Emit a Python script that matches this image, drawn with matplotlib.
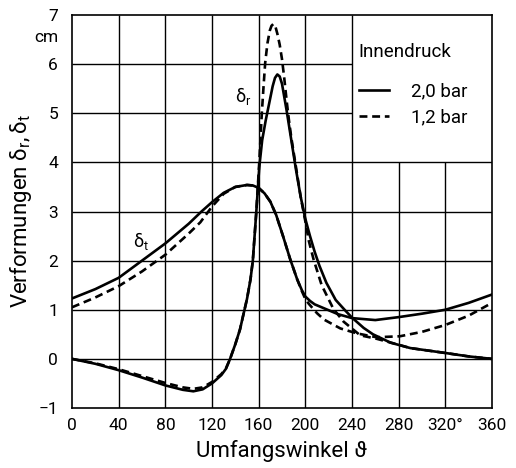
import matplotlib
matplotlib.use('Agg')  # no display
import matplotlib.pyplot as plt
import matplotlib.transforms as mtransforms

# delta_t (tangential), 2,0 bar and 1,2 bar
theta_t_20 = [0, 20, 40, 60, 80, 100, 111, 120, 130, 140, 150, 155, 160, 165, 170, 175, 181, 187,
              193, 197, 200, 204, 208, 216, 228, 240, 260, 280, 300, 320, 340, 360]
dt_20 = [1.23, 1.42, 1.65, 2.0, 2.35, 2.75, 3.0, 3.19, 3.38, 3.5, 3.54, 3.53, 3.48, 3.37, 3.2, 2.93,
         2.49, 2.03, 1.62, 1.4, 1.27, 1.18, 1.11, 1.03, 0.91, 0.83, 0.79, 0.85, 0.92, 1.0, 1.14, 1.31]

theta_t_12 = [0, 20, 40, 60, 80, 100, 110, 120, 130, 140, 150, 155, 160, 165, 170, 175, 181, 187,
              193, 197, 200, 203, 210, 216, 230, 244, 261, 281, 300, 320, 340, 360]
dt_12 = [1.05, 1.25, 1.48, 1.78, 2.12, 2.55, 2.78, 3.1, 3.36, 3.5, 3.54, 3.53, 3.48, 3.37, 3.2, 2.93,
         2.49, 2.03, 1.62, 1.38, 1.22, 1.12, 0.93, 0.8, 0.62, 0.52, 0.44, 0.46, 0.55, 0.69, 0.88, 1.14]

# delta_r (radial), 2,0 bar and 1,2 bar
theta_r_20 = [0, 20, 40, 60, 80, 95, 104, 112, 120, 128, 132, 135.5, 140, 144, 146.5, 150, 153, 155,
              158, 160.5, 163, 166, 169, 172, 174, 176, 178, 180, 184, 188, 192, 196, 200, 204,
              208, 212, 218, 226, 234, 240, 250, 258, 273, 290, 320, 340, 360]
dr_20 = [0, -0.1, -0.23, -0.38, -0.54, -0.63, -0.66, -0.62, -0.5, -0.33, -0.2, 0, 0.3, 0.6, 0.86,
         1.22, 1.62, 2.0, 3.0, 3.9, 4.45, 4.85, 5.2, 5.55, 5.72, 5.79, 5.75, 5.6, 5.05, 4.45, 3.85,
         3.3, 2.85, 2.5, 2.18, 1.9, 1.55, 1.2, 0.99, 0.84, 0.63, 0.5, 0.33, 0.22, 0.12, 0.05, 0.0]

theta_r_12 = [0, 20, 40, 60, 80, 95, 104, 112, 120, 128, 132, 135.5, 140, 144, 146.5, 150, 153, 155,
              158, 160.5, 162.7, 164.2, 165.6, 167.5, 169.5, 171, 172.7, 174.3, 176, 178, 180, 182,
              184, 186, 188, 192, 196, 200, 203, 207, 214, 224, 232.7, 247, 261, 275, 290, 320, 340,
              360]
dr_12 = [0, -0.09, -0.21, -0.35, -0.49, -0.58, -0.61, -0.58, -0.47, -0.31, -0.19, 0, 0.3, 0.6,
         0.86, 1.22, 1.62, 2.0, 3.0, 4.0, 5.0, 5.55, 6.03, 6.42, 6.68, 6.78, 6.82, 6.77, 6.62, 6.4,
         6.1, 5.7, 5.25, 4.85, 4.5, 3.9, 3.3, 2.8, 2.4, 2.03, 1.5, 1.02, 0.76, 0.48, 0.41, 0.32,
         0.22, 0.12, 0.05, 0.0]

x_ticks = [0, 40, 80, 120, 160, 200, 240, 280, 320, 360]
x_tick_labels = ['0', '40', '80', '120', '160', '200', '240', '280', '320°', '360']
y_ticks = [-1, 0, 1, 2, 3, 4, 5, 6, 7]
pressure_labels = ['2,0 bar', '1,2 bar']

plt.rcParams['font.family'] = ['Roboto', 'DejaVu Sans']
plt.rcParams['mathtext.fontset'] = 'custom'
plt.rcParams['mathtext.rm'] = 'Roboto'
plt.rcParams['mathtext.it'] = 'Roboto:italic'
plt.rcParams['mathtext.bf'] = 'Roboto:bold'

fig = plt.figure(figsize=(5.16, 4.68), dpi=100)
ax = fig.add_axes([72 / 516, 60 / 468, 420 / 516, 393 / 468])
ax.set_xlim(0, 360)
ax.set_ylim(-1, 7)

# grid, left open where the legend sits (240..360, 4..7)
for x in x_ticks[1:-1]:
    ax.vlines(x, -1, 4 if x > 240 else 7, color='black', lw=1.0, zorder=1)
for y in y_ticks[1:-1]:
    ax.hlines(y, 0, 240 if y > 4 else 360, color='black', lw=1.0, zorder=1)

lw = 1.9
dash = (0, (3.0, 1.8))
ax.plot(theta_t_20, dt_20, color='black', lw=lw, solid_joinstyle='round', zorder=3)
ax.plot(theta_t_12, dt_12, color='black', lw=lw, linestyle=dash, zorder=2)
ax.plot(theta_r_20, dr_20, color='black', lw=lw, solid_joinstyle='round', zorder=3,
        label=pressure_labels[0])
ax.plot(theta_r_12, dr_12, color='black', lw=lw, linestyle=dash, zorder=2,
        label=pressure_labels[1])

ax.text(147, 5.35, r'$\mathrm{δ_r}$', fontsize=13, ha='center', va='center')
ax.text(59.5, 2.39, r'$\mathrm{δ_t}$', fontsize=13, ha='center', va='center')

ax.text(0.681, 0.906, 'Innendruck', transform=ax.transAxes, fontsize=13.5,
        ha='left', va='center')
ax.legend(loc='upper left', bbox_to_anchor=(0.683, 0.828), frameon=False, fontsize=13.5,
          borderpad=0, borderaxespad=0, handlelength=1.6, handletextpad=1.2, labelspacing=0.4)

ax.set_xticks(x_ticks)
ax.set_xticklabels(x_tick_labels)
ax.set_yticks(y_ticks)
ax.tick_params(length=0, labelsize=12.5)
ax.tick_params(axis='x', pad=7)
ax.tick_params(axis='y', pad=10)

trans = mtransforms.blended_transform_factory(ax.transAxes, ax.transData)
ax.text(-0.033, 6.55, 'cm', transform=trans, fontsize=12.5, ha='right', va='center')

ax.set_xlabel('Umfangswinkel ϑ', fontsize=16, labelpad=5)
ax.set_ylabel(r'Verformungen $\mathrm{δ_r, δ_t}$', fontsize=16, labelpad=3)

for spine in ax.spines.values():
    spine.set_linewidth(1.2)

plt.savefig('out.png', dpi=100)
plt.close()
